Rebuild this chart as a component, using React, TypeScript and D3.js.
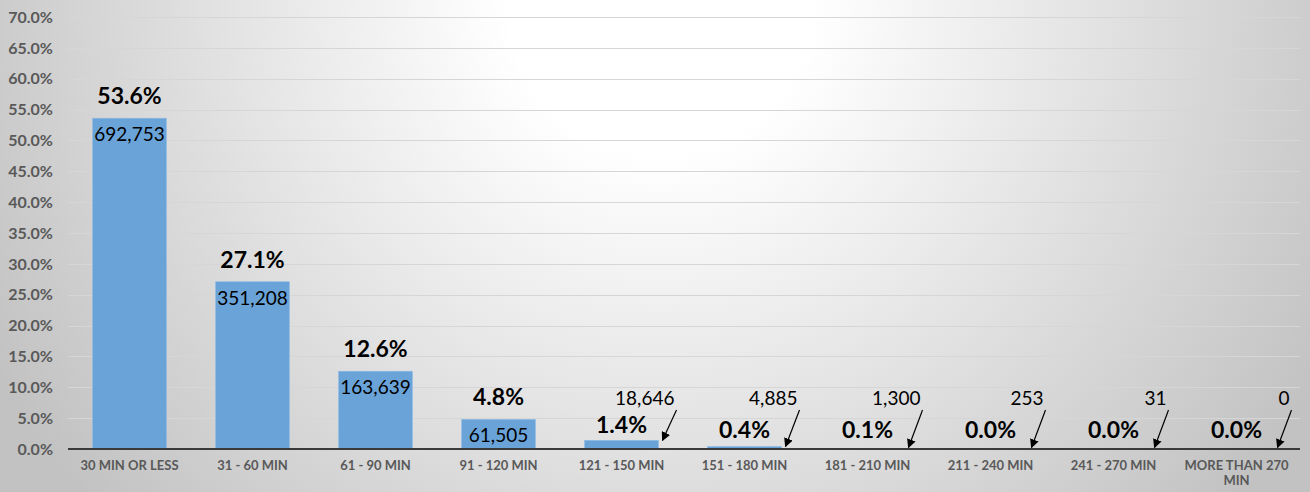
import React, { useEffect, useRef } from 'react';
import * as d3 from 'd3';

const categories = [
  '30 MIN OR LESS', '31 - 60 MIN', '61 - 90 MIN', '91 - 120 MIN', '121 - 150 MIN',
  '151 - 180 MIN', '181 - 210 MIN', '211 - 240 MIN', '241 - 270 MIN', 'MORE THAN 270 MIN',
];
const percents = [53.6, 27.1, 12.6, 4.8, 1.4, 0.4, 0.1, 0.0, 0.0, 0.0];
const counts = [692753, 351208, 163639, 61505, 18646, 4885, 1300, 253, 31, 0];
const yTicks = [0, 5, 10, 15, 20, 25, 30, 35, 40, 45, 50, 55, 60, 65, 70];

// bars from this index on are too short to hold the count, it goes above with an arrow
const CALLOUT_FROM = 4;

const W = 1310;
const H = 492;

const App: React.FC = () => {
  const svgRef = useRef<SVGSVGElement>(null);

  useEffect(() => {
    if (!svgRef.current) return;
    const svg = d3.select(svgRef.current);
    svg.selectAll('*').remove();

    const data = categories.map((c, i) => ({ cat: c, pct: percents[i], count: counts[i] }));

    const x = d3.scaleBand<string>()
      .domain(categories)
      .range([68, 1298])
      .paddingInner(0.4)
      .paddingOuter(0.2);
    const y = d3.scaleLinear().domain([0, 70]).range([449, 17]);

    const font = 'Lato, "Open Sans", sans-serif';
    const fmtPct = (v: number) => v.toFixed(1) + '%';

    // background
    const defs = svg.append('defs');
    const grad = defs.append('radialGradient')
      .attr('id', 'bg-grad')
      .attr('gradientUnits', 'userSpaceOnUse')
      .attr('cx', 660).attr('cy', 0).attr('r', 760);
    grad.append('stop').attr('offset', '0%').attr('stop-color', '#ffffff');
    grad.append('stop').attr('offset', '20%').attr('stop-color', '#ffffff');
    grad.append('stop').attr('offset', '100%').attr('stop-color', '#c2c2c2');

    const marker = defs.append('marker')
      .attr('id', 'arrow')
      .attr('viewBox', '0 0 10 10')
      .attr('refX', 9).attr('refY', 5)
      .attr('markerWidth', 9).attr('markerHeight', 9)
      .attr('markerUnits', 'userSpaceOnUse')
      .attr('orient', 'auto');
    marker.append('path').attr('d', 'M0,0 L10,5 L0,10 Z').attr('fill', '#000');

    svg.append('rect').attr('width', W).attr('height', H).attr('fill', 'url(#bg-grad)');

    // gridlines
    svg.append('g')
      .selectAll('line')
      .data(yTicks.slice(1))
      .enter()
      .append('line')
      .attr('x1', 68).attr('x2', 1300)
      .attr('y1', d => Math.round(y(d)) + 0.5)
      .attr('y2', d => Math.round(y(d)) + 0.5)
      .attr('stroke', '#d6d6d6')
      .attr('stroke-width', 1.2);

    // y tick labels
    svg.append('g')
      .selectAll('text')
      .data(yTicks)
      .enter()
      .append('text')
      .attr('x', 53)
      .attr('y', d => y(d))
      .attr('dy', '0.36em')
      .attr('text-anchor', 'end')
      .attr('font-family', font)
      .attr('font-weight', 'bold')
      .attr('font-size', 16)
      .attr('fill', '#595959')
      .text(d => fmtPct(d));

    // bars
    svg.append('g')
      .selectAll('rect')
      .data(data)
      .enter()
      .append('rect')
      .attr('x', d => x(d.cat)!)
      .attr('width', x.bandwidth())
      .attr('y', d => y(d.pct))
      .attr('height', d => y(0) - y(d.pct))
      .attr('fill', '#6aa3d8')
      .attr('stroke', '#8dbbe6')
      .attr('stroke-width', 0.6);

    // axis line
    svg.append('line')
      .attr('x1', 68).attr('x2', 1300)
      .attr('y1', y(0)).attr('y2', y(0))
      .attr('stroke', '#3a3a3a')
      .attr('stroke-width', 2.2);

    // x labels, wrapped to the band
    const xl = svg.append('g')
      .selectAll('text')
      .data(categories)
      .enter()
      .append('text')
      .attr('x', d => x(d)! + x.bandwidth() / 2)
      .attr('y', 470)
      .attr('text-anchor', 'middle')
      .attr('font-family', font)
      .attr('font-weight', 'bold')
      .attr('font-size', 13)
      .attr('fill', '#595959');
    xl.each(function (d) {
      const el = d3.select(this);
      const words = d.split(' ');
      let line: string[] = [];
      let tspan = el.append('tspan').attr('x', el.attr('x')).attr('dy', 0);
      for (const w of words) {
        line.push(w);
        tspan.text(line.join(' '));
        if ((tspan.node() as SVGTSpanElement).getComputedTextLength() > 105 && line.length > 1) {
          line.pop();
          tspan.text(line.join(' '));
          line = [w];
          tspan = el.append('tspan').attr('x', el.attr('x')).attr('dy', 15).text(w);
        }
      }
    });

    const cx = (d: { cat: string }) => x(d.cat)! + x.bandwidth() / 2;

    // percent labels
    svg.append('g')
      .selectAll('text')
      .data(data)
      .enter()
      .append('text')
      .attr('x', d => cx(d))
      .attr('y', (d, i) => i < CALLOUT_FROM ? y(d.pct) - 14 : Math.min(y(d.pct) - 7, y(0) - 11))
      .attr('text-anchor', 'middle')
      .attr('font-family', font)
      .attr('font-weight', 'bold')
      .attr('font-size', 23)
      .attr('fill', '#000')
      .text(d => fmtPct(d.pct));

    // count labels inside the tall bars
    svg.append('g')
      .selectAll('text')
      .data(data.slice(0, CALLOUT_FROM))
      .enter()
      .append('text')
      .attr('x', d => cx(d))
      .attr('y', d => y(d.pct) + 23)
      .attr('text-anchor', 'middle')
      .attr('font-family', font)
      .attr('font-size', 19)
      .attr('fill', '#000')
      .text(d => d3.format(',')(d.count));

    // callouts for the short bars
    const small = data.slice(CALLOUT_FROM);
    svg.append('g')
      .selectAll('text')
      .data(small)
      .enter()
      .append('text')
      .attr('x', d => cx(d) + 53)
      .attr('y', 405)
      .attr('text-anchor', 'end')
      .attr('font-family', font)
      .attr('font-size', 19)
      .attr('fill', '#000')
      .text(d => d3.format(',')(d.count));

    svg.append('g')
      .selectAll('line')
      .data(small)
      .enter()
      .append('line')
      .attr('x1', d => cx(d) + 55)
      .attr('y1', 410)
      .attr('x2', d => cx(d) + 41)
      .attr('y2', d => Math.min(y(d.pct), y(0) - 1.5))
      .attr('stroke', '#000')
      .attr('stroke-width', 1.2)
      .attr('marker-end', 'url(#arrow)');
  }, []);

  return (
    <>
      <style>{'body{margin:0}'}</style>
      <svg ref={svgRef} width={W} height={H} style={{ display: 'block' }} />
    </>
  );
};

export default App;
